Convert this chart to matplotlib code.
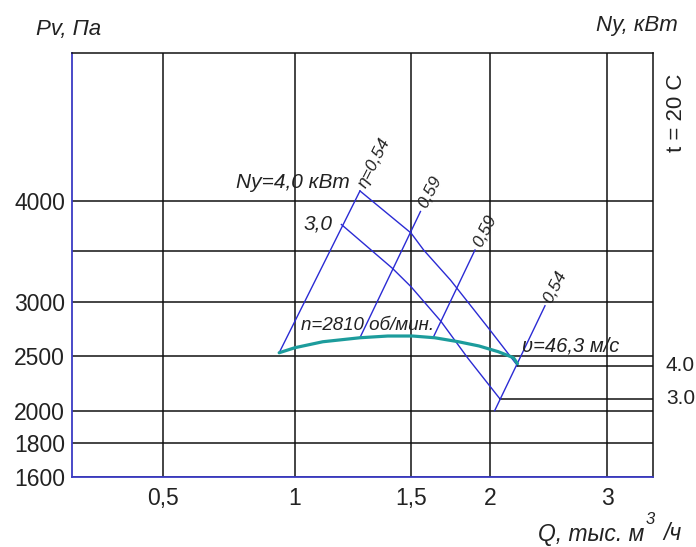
import numpy as np
import matplotlib
matplotlib.use('Agg')
import matplotlib.pyplot as plt
from matplotlib.transforms import blended_transform_factory

plt.rcParams['font.family'] = ['Liberation Sans', 'DejaVu Sans']

# pressure curve, n = 2810 rpm (Q in thousand m3/h, Pv in Pa)
q_curve = [0.94, 1.00, 1.12, 1.28, 1.40, 1.51, 1.65, 1.80, 1.93, 2.07, 2.20, 2.235]
pv_curve = [2530, 2577, 2632, 2669, 2685, 2685, 2669, 2632, 2593, 2540, 2485, 2430]

# power lines Ny = 4.0 and 3.0 kW
ny_levels = [4.0, 3.0]
ny4_q = [1.28, 1.50, 1.58, 1.75, 2.00, 2.235]
ny4_pv = [4100, 3680, 3510, 3215, 2740, 2412]
ny3_q = [1.20, 1.42, 1.50, 1.69, 1.86, 2.085]
ny3_pv = [3765, 3330, 3150, 2820, 2480, 2110]

# efficiency lines (start / end points)
eta_vals = [0.54, 0.59, 0.59, 0.54]
eta_q0 = [0.94, 1.28, 1.64, 2.04]
eta_pv0 = [2530, 2670, 2670, 2003]
eta_q1 = [1.28, 1.56, 1.905, 2.47]
eta_pv1 = [4100, 3895, 3510, 2965]

x_ticks = [0.5, 1, 1.5, 2, 3]
x_labels = ['0,5', '1', '1,5', '2', '3']
y_ticks = [1600, 1800, 2000, 2500, 3000, 3500, 4000]
y_labels = ['1600', '1800', '2000', '2500', '3000', '', '4000']

# the grid of the original is hand spaced -> piecewise axis calibration
QK = [0.16, 0.5, 1.0, 1.5, 2.0, 3.0, 3.39]
QK_POS = [0, 91, 223, 339, 418, 535, 581]
PK = [1600, 1800, 2000, 2500, 3000, 3500, 4000, 5470]
PK_POS = [0, 34, 66, 121, 175, 226, 276, 424]

BLUE = '#2b2bd4'
AXBLUE = '#3a3ac4'
TEAL = '#1c9c9c'
W, H = 696, 547

fig = plt.figure(figsize=(W / 100, H / 100), dpi=100)
ax = fig.add_axes([72 / W, 70 / H, 581 / W, 424 / H])

ax.set_xscale('function', functions=(lambda v: np.interp(v, QK, QK_POS),
                                     lambda v: np.interp(v, QK_POS, QK)))
ax.set_yscale('function', functions=(lambda v: np.interp(v, PK, PK_POS),
                                     lambda v: np.interp(v, PK_POS, PK)))
ax.set_xlim(QK[0], QK[-1])
ax.set_ylim(PK[0], PK[-1])

ax.set_xticks(x_ticks)
ax.set_xticklabels(x_labels)
ax.set_yticks(y_ticks)
ax.set_yticklabels(y_labels)
ax.minorticks_off()
ax.tick_params(length=0, labelsize=16.5, colors='#222222')
ax.tick_params(axis='x', pad=7)
ax.tick_params(axis='y', pad=5)
ax.grid(True, color='#111111', lw=1.1)
ax.set_axisbelow(True)

for side in ['top', 'right']:
    ax.spines[side].set_color('#111111')
    ax.spines[side].set_linewidth(1.1)
for side in ['left', 'bottom']:
    ax.spines[side].set_color(AXBLUE)
    ax.spines[side].set_linewidth(1.3)

# power lines and their right-axis levels
it = dict(style='italic', color='#222222')
trans_r = blended_transform_factory(ax.transAxes, ax.transData)
for lvl, qq, pp in zip(ny_levels, [ny4_q, ny3_q], [ny4_pv, ny3_pv]):
    ax.plot(qq, pp, color=BLUE, lw=1.0)
    ax.plot([qq[-1], QK[-1]], [pp[-1], pp[-1]], color='#111111', lw=1.1)
    ax.text(1.022, pp[-1], f'{lvl:.1f}', transform=trans_r, ha='left', va='center',
            fontsize=15, color='#222222', clip_on=False)

ax.annotate('Ny=4,0 кВт', xy=(ny4_q[0], ny4_pv[0]), xytext=(-10, 8), textcoords='offset pixels',
            ha='right', va='center', fontsize=15, **it)
ax.annotate('3,0', xy=(ny3_q[0], ny3_pv[0]), xytext=(-9, 0), textcoords='offset pixels',
            ha='right', va='center', fontsize=15, **it)

# efficiency lines
for i, (e, a, b, c, d) in enumerate(zip(eta_vals, eta_q0, eta_pv0, eta_q1, eta_pv1)):
    ax.plot([a, c], [b, d], color=BLUE, lw=1.0)
    txt = f'η={e:.2f}'.replace('.', ',') if i == 0 else f'{e:.2f}'.replace('.', ',')
    ax.annotate(txt, xy=(c, d), xytext=(2, 4), textcoords='offset pixels',
                rotation=63, rotation_mode='anchor', ha='left', va='center',
                fontsize=12.5, **it)

# pressure curve
ax.plot(q_curve, pv_curve, color=TEAL, lw=2.3, solid_capstyle='round', solid_joinstyle='round')
ax.text(1.026, 2778, 'n=2810 об/мин.', ha='left', va='center', fontsize=13.5, **it)
ax.annotate('υ=46,3 м/с', xy=(q_curve[-1], pv_curve[-1]), xytext=(5, 18),
            textcoords='offset pixels', ha='left', va='center', fontsize=14.5, **it)

# axis titles
fig.text(36 / W, 1 - 30 / H, 'Pv, Па', ha='left', va='center', fontsize=16, **it)
fig.text(678 / W, 1 - 25 / H, 'Ny, кВт', ha='right', va='center', fontsize=16, **it)
fig.text(677 / W, 1 - 113 / H, 't = 20 C', ha='center', va='center', rotation=90,
         fontsize=16, color='#222222')
fig.text(538 / W, 1 - 534 / H, 'Q, тыс. м', ha='left', va='center', fontsize=16.5, **it)
fig.text(650 / W, 1 - 520 / H, '3', ha='center', va='center', fontsize=12, **it)
fig.text(663 / W, 1 - 534 / H, '/ч', ha='left', va='center', fontsize=16.5, **it)

fig.savefig('out.png', dpi=100)
